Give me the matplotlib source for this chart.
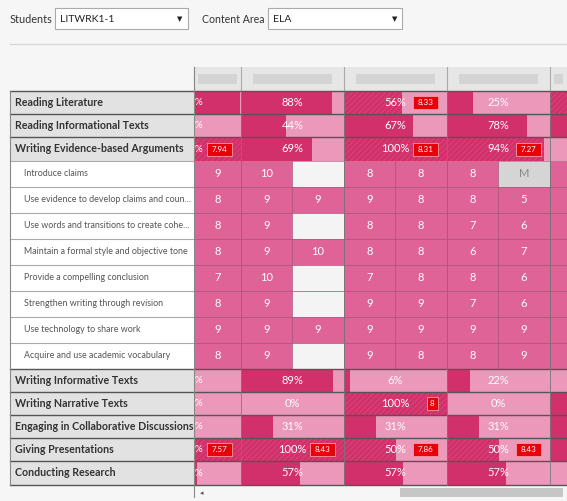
import matplotlib.pyplot as plt
from matplotlib.patches import Rectangle

plt.rcParams["font.family"] = ["Lato", "DejaVu Sans"]
plt.rcParams["hatch.linewidth"] = 0.5

# group rows: (label, percent per column, hatched flags, badge per column)
group_top = ["Reading Literature", "Reading Informational Texts", "Writing Evidence-based Arguments"]
group_bottom = ["Writing Informative Texts", "Writing Narrative Texts",
                "Engaging in Collaborative Discussions", "Giving Presentations", "Conducting Research"]
groups = group_top + group_bottom
# columns: partial col1, col2, col3, col4, partial col5
pct = {
    "Reading Literature": [45, 88, 56, 25, 100],
    "Reading Informational Texts": [0, 44, 67, 78, 100],
    "Writing Evidence-based Arguments": [100, 69, 100, 94, 0],
    "Writing Informative Texts": [0, 89, 6, 22, 0],
    "Writing Narrative Texts": [0, 0, 100, 0, 100],
    "Engaging in Collaborative Discussions": [0, 31, 31, 31, 100],
    "Giving Presentations": [100, 100, 50, 50, 100],
    "Conducting Research": [3, 57, 57, 57, 0],
}
hatched = {
    "Reading Literature": [0, 0, 1, 0, 1],
    "Writing Evidence-based Arguments": [1, 0, 1, 1, 0],
    "Writing Narrative Texts": [0, 0, 1, 0, 0],
    "Giving Presentations": [1, 1, 1, 1, 0],
}
badges = {
    "Reading Literature": [None, None, "8.33", None],
    "Writing Evidence-based Arguments": ["7.94", None, "8.31", "7.27"],
    "Writing Narrative Texts": [None, None, "8", None],
    "Giving Presentations": ["7.57", "8.43", "7.86", "8.43"],
}
sub_labels = ["Introduce claims", "Use evidence to develop claims and coun...",
              "Use words and transitions to create cohe...", "Maintain a formal style and objective tone",
              "Provide a compelling conclusion", "Strengthen writing through revision",
              "Use technology to share work", "Acquire and use academic vocabulary"]
sub_scores = [
    ["9", "10", "", "8", "8", "8", "M"],
    ["8", "9", "9", "9", "8", "8", "5"],
    ["8", "9", "", "8", "8", "7", "6"],
    ["8", "9", "10", "8", "8", "6", "7"],
    ["7", "10", "", "7", "8", "8", "6"],
    ["8", "9", "", "9", "9", "7", "6"],
    ["9", "9", "9", "9", "9", "9", "9"],
    ["8", "9", "", "9", "8", "8", "9"],
]

DARK = "#d2306a"
LIGHT = "#eb98bb"
MID = "#df6397"
LABEL_BG = "#e2e2e2"
BG = "#f6f6f6"

fig = plt.figure(figsize=(5.67, 5.01), dpi=100)
ax = fig.add_axes([0, 0, 1, 1])
ax.set_xlim(0, 567)
ax.set_ylim(501, 0)
ax.axis("off")
ax.add_patch(Rectangle((0, 0), 567, 501, color=BG, zorder=0))


def rect(x, y, w, h, **kw):
    ax.add_patch(Rectangle((x, y), w, h, **kw))


# controls
ax.text(10, 19, "Students", fontsize=7.8, va="center", color="#333")
rect(55, 8, 133, 21, fc="white", ec="#aaa", lw=0.8)
ax.text(60, 19, "LITWRK1-1", fontsize=7.5, va="center", color="#222")
ax.text(182, 19, "▼", fontsize=5, va="center", ha="right", color="#222")
ax.text(202, 19, "Content Area", fontsize=7.6, va="center", color="#333")
rect(268, 8, 134, 21, fc="white", ec="#aaa", lw=0.8)
ax.text(273, 19, "ELA", fontsize=7.5, va="center", color="#222")
ax.text(397, 19, "▼", fontsize=5, va="center", ha="right", color="#222")
ax.plot([10, 567], [44, 44], color="#d8d8d8", lw=1)

col_x = [194, 241, 344, 447, 550, 567]
sub_x = [194, 241, 292, 344, 395, 447, 498, 550, 567]

# column header (blurred names)
rect(194, 67, 373, 24, fc="#e6e6e6", ec="none")
for i in range(5):
    x0, x1 = col_x[i], col_x[i + 1]
    ax.plot([x0, x0], [67, 91], color="#aaa", lw=0.8)
    pad = 12 if i in (1, 2, 3) else 4
    rect(x0 + pad, 74, x1 - x0 - 2 * pad, 10, fc="#cdcdcd", ec="none", alpha=0.7)

row_h = 23.2
sub_h = 26
y = 91
rows = []
for g in group_top:
    rows.append(("g", g, y, row_h)); y += row_h
for i, s in enumerate(sub_labels):
    rows.append(("s", i, y, sub_h)); y += sub_h
for g in group_bottom:
    rows.append(("g", g, y, row_h)); y += row_h
bottom = y


def badge(xr, yc, txt):
    w = 7 + 4.4 * len(txt)
    rect(xr - w, yc - 6.5, w, 13, fc="#e8000b", ec="#ff9a9a", lw=0.6, zorder=5)
    ax.text(xr - w / 2, yc, txt, fontsize=5.8, color="white", ha="center", va="center", zorder=6)


for kind, key, y0, h in rows:
    yc = y0 + h / 2
    if kind == "g":
        rect(10, y0, 184, h, fc=LABEL_BG, ec="none")
        ax.text(15, yc, key, fontsize=7.7, fontweight="bold", color="#333", va="center")
        hs = hatched.get(key, [0] * 5)
        bs = badges.get(key, [None] * 4)
        for i in range(5):
            x0, x1 = col_x[i], col_x[i + 1]
            full = 103
            rect(x0, y0, x1 - x0, h, fc=LIGHT, ec="none")
            dw = min(full * pct[key][i] / 100, x1 - x0)
            rect(x0, y0, dw, h, fc=DARK, ec="none")
            if hs[i]:
                rect(x0, y0, x1 - x0, h, fc="none", ec="#f5d0de", lw=0, hatch="//////", alpha=0.18)
            if i == 0:
                ax.text(194.5, yc, "%", fontsize=7, color="white", va="center")
            elif i < 4:
                ax.text((x0 + x1) / 2, yc, f"{pct[key][i]}%", fontsize=8, color="white",
                        ha="center", va="center")
            if i < 4 and bs[i]:
                badge(x1 - 9, yc, bs[i])
        ax.plot([10, 567], [y0, y0], color="#555", lw=1)
    else:
        rect(10, y0, 184, h, fc="white", ec="none")
        ax.text(24, yc, sub_labels[key], fontsize=6.4, color="#555", va="center")
        for j in range(8):
            x0, x1 = sub_x[j], sub_x[j + 1]
            v = sub_scores[key][j] if j < 7 else ""
            if j == 7:
                fc = MID
            elif v == "":
                fc = "#f4f4f4"
            elif v == "M":
                fc = "#d5d5d5"
            else:
                fc = MID
            rect(x0, y0, x1 - x0, h, fc=fc, ec="#a04a6e", lw=0.4)
            if v:
                ax.text((x0 + x1) / 2, yc, v, fontsize=8, ha="center", va="center",
                        color="#888" if v == "M" else "white")
        ax.plot([10, 194], [y0, y0], color="#aaa", lw=0.8)

ax.plot([10, 567], [bottom, bottom], color="#555", lw=1)
ax.plot([10, 10], [91, bottom], color="#888", lw=0.8)
ax.plot([194, 194], [67, bottom + 12], color="#888", lw=0.8)
for x in col_x[1:5]:
    ax.plot([x, x], [91, bottom], color="#777", lw=0.6)

# scrollbar
rect(400, bottom + 3, 163, 9, fc="#c6c6c6", ec="none")
ax.text(200, bottom + 7.5, "◂", fontsize=5, color="#555", va="center")

fig.savefig("out.png", dpi=100)
